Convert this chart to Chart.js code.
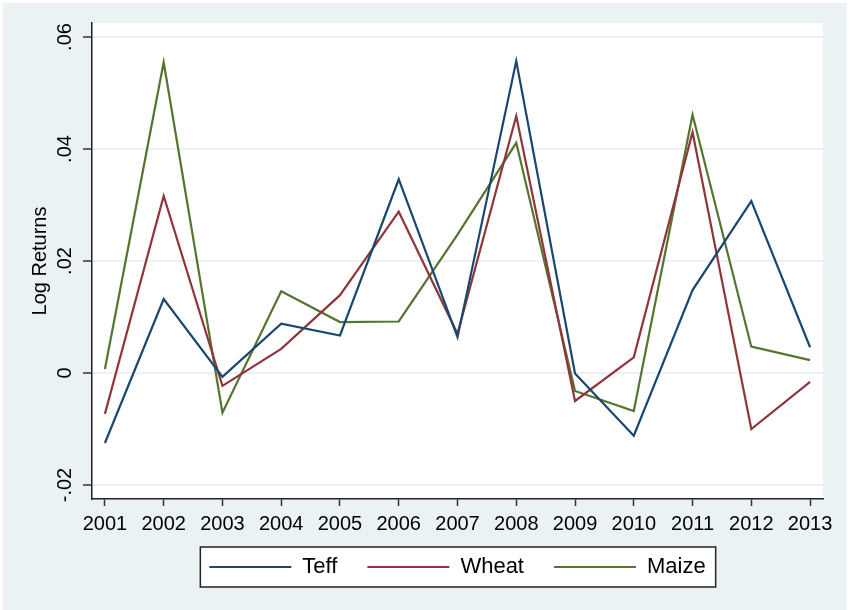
<!DOCTYPE html>
<html>
<head>
<meta charset="utf-8">
<title>Log Returns</title>
<script src="https://cdn.jsdelivr.net/npm/chart.js@4.4.1/dist/chart.umd.min.js"></script>
<style>
  html, body { margin: 0; padding: 0; background: #fff; }
  canvas { display: block; }
</style>
</head>
<body>
<canvas id="returns-chart" width="850" height="610"></canvas>
<script>
const years = [2001, 2002, 2003, 2004, 2005, 2006, 2007, 2008, 2009, 2010, 2011, 2012, 2013];
const teffReturns = [-0.0125, 0.0132, -0.0007, 0.0088, 0.0067, 0.0346, 0.0064, 0.0557, -0.0001, -0.0112, 0.0148, 0.0307, 0.0046];
const wheatReturns = [-0.0073, 0.0316, -0.0023, 0.0043, 0.0139, 0.0288, 0.0070, 0.0459, -0.0050, 0.0028, 0.0430, -0.0100, -0.0016];
const maizeReturns = [0.0007, 0.0555, -0.0071, 0.0146, 0.0091, 0.0092, 0.0247, 0.0411, -0.0032, -0.0068, 0.0461, 0.0047, 0.0023];
const yTickValues = [-0.02, 0, 0.02, 0.04, 0.06];
const yTickLabels = ["-.02", "0", ".02", ".04", ".06"];

Chart.defaults.font.family = "'Liberation Sans', Arial, sans-serif";
Chart.defaults.color = "#000";

const toPoints = (values) => values.map((v, i) => ({ x: years[i], y: v }));

// outer panel, white plot region and legend frame
const backdrop = {
  id: "backdrop",
  beforeDraw(chart) {
    const { ctx, chartArea, legend } = chart;
    ctx.save();
    ctx.fillStyle = "#fff";
    ctx.fillRect(0, 0, chart.width, chart.height);
    ctx.fillStyle = "#EAF2F3";
    ctx.fillRect(3, 3, 844, 607);
    ctx.fillStyle = "#fff";
    ctx.fillRect(chartArea.left, chartArea.top, chartArea.right - chartArea.left, chartArea.bottom - chartArea.top);

    const boxes = legend.legendHitBoxes;
    if (boxes && boxes.length) {
      const first = boxes[0];
      const last = boxes[boxes.length - 1];
      const mid = first.top + first.height / 2;
      const x0 = first.left - 9;
      const x1 = last.left + last.width + 10;
      ctx.fillStyle = "#fff";
      ctx.fillRect(x0, mid - 20, x1 - x0, 40);
      ctx.strokeStyle = "#222";
      ctx.lineWidth = 1.5;
      ctx.strokeRect(x0, mid - 20, x1 - x0, 40);
    }
    ctx.restore();
  },
};

// legend sits centred under the plot region, not the canvas
const legendPlacer = {
  id: "legendPlacer",
  afterLayout(chart) {
    const legend = chart.legend;
    const area = chart.chartArea;
    const dx = (area.left + area.right) / 2 - (legend.left + legend.right) / 2;
    const dy = 567 - (legend.top + legend.options.labels.padding + 11);
    legend.left += dx;
    legend.right += dx;
    legend.top += dy;
    legend.bottom += dy;
  },
};

const chartData = {
  datasets: [
    {
      label: "Teff",
      data: toPoints(teffReturns),
      borderColor: "#1A476F",
      backgroundColor: "#1A476F",
      borderWidth: 2.2,
      pointRadius: 0,
    },
    {
      label: "Wheat",
      data: toPoints(wheatReturns),
      borderColor: "#90353B",
      backgroundColor: "#90353B",
      borderWidth: 2.2,
      pointRadius: 0,
    },
    {
      label: "Maize",
      data: toPoints(maizeReturns),
      borderColor: "#55752F",
      backgroundColor: "#55752F",
      borderWidth: 2.2,
      pointRadius: 0,
    },
  ],
};

const chartOptions = {
  responsive: false,
  animation: false,
  layout: {
    padding: { top: 23, right: 27, bottom: 0, left: 0 },
  },
  scales: {
    x: {
      type: "linear",
      min: 2000.78,
      max: 2013.22,
      afterFit: (scale) => {
        scale.height = 49;
      },
      afterBuildTicks: (scale) => {
        scale.ticks = years.map((y) => ({ value: y }));
      },
      ticks: {
        callback: (value) => String(value),
        font: { size: 20 },
        padding: 6,
        maxRotation: 0,
        autoSkip: false,
      },
      grid: {
        drawOnChartArea: false,
        drawTicks: true,
        tickLength: 7,
        tickColor: "#333",
        tickWidth: 1.5,
      },
      border: { color: "#222", width: 1.5 },
    },
    y: {
      min: -0.0225,
      max: 0.0625,
      afterFit: (scale) => {
        scale.width = 92;
      },
      afterBuildTicks: (scale) => {
        scale.ticks = yTickValues.map((v) => ({ value: v }));
      },
      ticks: {
        callback: (value, index) => yTickLabels[index],
        font: { size: 20 },
        minRotation: 90,
        maxRotation: 90,
        crossAlign: "center",
        padding: 0,
      },
      grid: {
        color: "#EAF2F3",
        lineWidth: 2,
        tickColor: "#333",
        tickWidth: 1.5,
        tickLength: 9,
      },
      border: { color: "#222", width: 1.5 },
      title: {
        display: true,
        text: "Log Returns",
        font: { size: 20 },
        padding: { top: 28, bottom: 0 },
      },
    },
  },
  plugins: {
    legend: {
      display: true,
      position: "bottom",
      labels: {
        usePointStyle: true,
        pointStyle: "line",
        pointStyleWidth: 82,
        padding: 30,
        font: { size: 22 },
        color: "#000",
      },
    },
    tooltip: {
      enabled: false,
    },
  },
};

new Chart(document.getElementById("returns-chart"), {
  type: "line",
  data: chartData,
  options: chartOptions,
  plugins: [backdrop, legendPlacer],
});
</script>
</body>
</html>
